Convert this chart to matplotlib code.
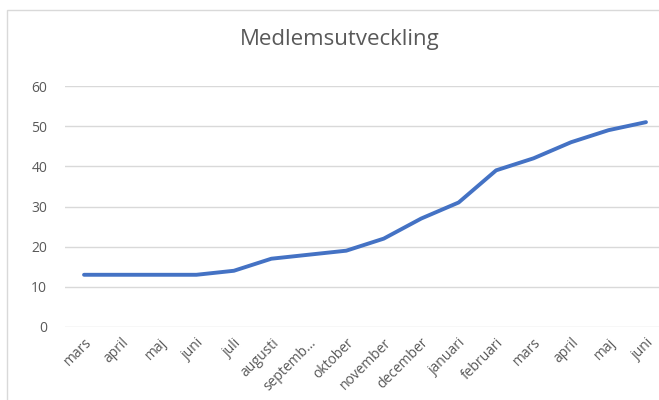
import matplotlib.pyplot as plt
from matplotlib.patches import Rectangle

# Data
manader = ['mars', 'april', 'maj', 'juni', 'juli', 'augusti', 'septemb…',
           'oktober', 'november', 'december', 'januari', 'februari',
           'mars', 'april', 'maj', 'juni']
medlemmar = [13, 13, 13, 13, 14, 17, 18, 19, 22, 27, 31, 39, 42, 46, 49, 51]
yticks = [0, 10, 20, 30, 40, 50, 60]

plt.rcParams['font.family'] = ['Open Sans', 'DejaVu Sans']
gra = '#595959'

fig = plt.figure(figsize=(6.59, 4.0), dpi=100)

# Diagramram (ljusgrå kant)
fig.patches.append(Rectangle((7 / 659, -0.1), 1.2, 1 - 10 / 400 + 0.1,
                             transform=fig.transFigure, fill=False,
                             edgecolor='#D9D9D9', linewidth=1))

ax = fig.add_axes([65.3 / 659, 73 / 400, 599.4 / 659, 241 / 400])
x = list(range(len(manader)))
ax.plot(x, medlemmar, color='#4472C4', linewidth=2.8,
        solid_capstyle='round', solid_joinstyle='round', zorder=3)

ax.set_xlim(-0.5, len(manader) - 0.5)
ax.set_ylim(0, 60)
ax.set_yticks(yticks)
ax.set_xticks(x)
ax.set_xticklabels(manader, rotation=45, ha='right', va='top',
                   rotation_mode='anchor')
ax.tick_params(axis='both', length=0, labelsize=10, labelcolor=gra)
ax.tick_params(axis='y', pad=13)
ax.tick_params(axis='x', pad=6)
ax.grid(axis='y', color='#D9D9D9', linewidth=1)
ax.set_axisbelow(True)
for s in ax.spines.values():
    s.set_visible(False)

fig.text(340 / 659, 1 - 40 / 400, 'Medlemsutveckling', ha='center',
         va='center', fontsize=16, color=gra)

fig.savefig('out.png', dpi=100)
